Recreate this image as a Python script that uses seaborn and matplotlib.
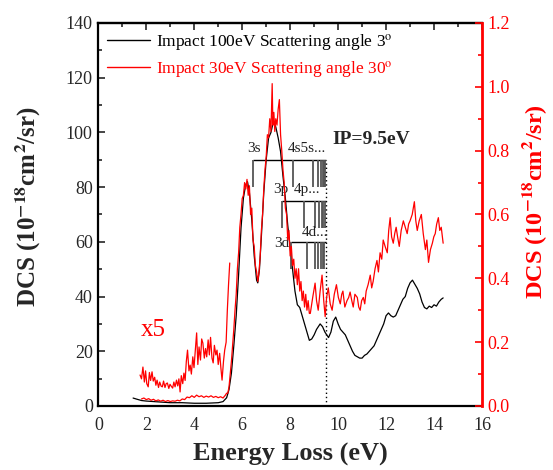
import matplotlib
matplotlib.use("Agg")
import matplotlib.pyplot as plt
from matplotlib.lines import Line2D
from matplotlib.ticker import MultipleLocator, FormatStrFormatter
import numpy as np
import pandas as pd
import seaborn as sns

# ---------------------------------------------------------------------------
# Data
# ---------------------------------------------------------------------------

# Impact 100 eV, 3 deg -- left axis
black_energy = [1.45, 1.6, 1.8, 2.0, 2.5, 3.0, 3.5, 4.0, 4.5, 5.0, 5.2, 5.35, 5.45, 5.55,
                5.65, 5.75, 5.85, 5.95, 6.05, 6.15, 6.22, 6.3, 6.4, 6.5, 6.6, 6.65, 6.72,
                6.8, 6.9, 7.0, 7.1, 7.2, 7.3, 7.4, 7.5, 7.6, 7.7, 7.8, 7.9, 8.0, 8.1, 8.2,
                8.3, 8.4, 8.5, 8.6, 8.7, 8.8, 8.9, 9.0, 9.1, 9.25, 9.35, 9.45, 9.6, 9.7,
                9.8, 9.9, 10.0, 10.1, 10.2, 10.3, 10.4, 10.5, 10.6, 10.7, 10.8, 10.9, 11.0,
                11.1, 11.2, 11.3, 11.4, 11.5, 11.6, 11.7, 11.8, 11.9, 12.0, 12.1, 12.2,
                12.3, 12.4, 12.5, 12.6, 12.7, 12.8, 12.9, 13.0, 13.1, 13.2, 13.3, 13.4,
                13.5, 13.6, 13.7, 13.8, 13.9, 14.0, 14.1, 14.2, 14.3, 14.38]
black_dcs = [2.9, 2.5, 2.0, 1.8, 1.5, 1.2, 1.2, 1.0, 1.0, 1.2, 1.6, 3.0, 6.0, 12.0,
             22.0, 33.0, 48.0, 65.0, 76.0, 81.0, 82.0, 78.0, 68.0, 55.0, 46.0, 45.0, 50.0,
             62.0, 78.0, 90.0, 98.0, 100.0, 104.0, 102.0, 98.0, 93.0, 84.0, 76.0, 66.0,
             58.0, 50.0, 42.0, 37.0, 36.0, 33.0, 30.0, 27.0, 24.0, 24.5, 26.0, 28.0, 30.0,
             29.0, 27.0, 25.0, 27.0, 31.0, 32.5, 30.0, 28.0, 27.0, 26.0, 24.0, 22.0, 20.0,
             18.5, 18.0, 17.5, 17.5, 18.5, 19.0, 20.0, 21.0, 22.0, 24.0, 26.0, 28.0, 30.0,
             33.0, 34.0, 33.0, 32.5, 33.0, 35.0, 37.0, 39.0, 40.0, 43.0, 45.0, 46.0, 44.5,
             43.0, 41.0, 38.0, 36.0, 35.5, 36.5, 36.0, 37.0, 36.5, 38.0, 39.0, 39.5]

# Impact 30 eV, 30 deg -- right axis
red_energy = [1.80, 1.90, 2.00, 2.10, 2.20, 2.30, 2.40, 2.50, 2.60, 2.70, 2.80, 2.90, 3.00,
              3.10, 3.20, 3.30, 3.40, 3.50, 3.60, 3.70, 3.80, 3.90, 4.00, 4.10, 4.20, 4.30,
              4.40, 4.50, 4.60, 4.70, 4.80, 4.90, 5.00, 5.10, 5.20, 5.30, 5.35,
              5.40, 5.45, 5.50, 5.55, 5.60, 5.65, 5.70, 5.75, 5.80, 5.85, 5.90, 5.95, 6.00,
              6.05, 6.10, 6.15, 6.20, 6.25, 6.30, 6.35, 6.40, 6.45, 6.50, 6.55, 6.60, 6.65,
              6.70, 6.75, 6.80, 6.85, 6.90, 6.95, 7.00, 7.05, 7.10, 7.15, 7.20, 7.25, 7.28,
              7.32, 7.36, 7.40, 7.45, 7.50, 7.55, 7.60, 7.65, 7.70, 7.75, 7.80, 7.85, 7.90,
              7.95, 8.00, 8.05, 8.10, 8.15, 8.20, 8.25, 8.30, 8.35, 8.40, 8.45, 8.50, 8.55,
              8.60, 8.65, 8.70, 8.75, 8.80,
              8.84, 8.94, 9.04, 9.10, 9.17, 9.25, 9.33, 9.40, 9.46, 9.52, 9.59, 9.67, 9.75,
              9.84, 9.93, 10.01, 10.09, 10.15, 10.20, 10.28, 10.37, 10.44, 10.50, 10.57,
              10.63, 10.70, 10.80, 10.86, 10.92, 10.98, 11.05, 11.11, 11.17, 11.25, 11.34,
              11.40, 11.46, 11.54, 11.62, 11.68, 11.75, 11.82, 11.88, 11.96, 12.05, 12.11,
              12.17, 12.23, 12.30, 12.36, 12.42, 12.48, 12.55, 12.63, 12.72, 12.80, 12.88,
              12.94, 13.00, 13.09, 13.18, 13.24, 13.30, 13.38, 13.47, 13.55, 13.64, 13.70,
              13.77, 13.85, 13.93, 13.99, 14.05, 14.11, 14.18, 14.24, 14.30, 14.38]
red_dcs = [0.022, 0.025, 0.020, 0.023, 0.018, 0.021, 0.016, 0.019, 0.015, 0.018, 0.014,
           0.017, 0.014, 0.016, 0.015, 0.018, 0.016, 0.022, 0.020, 0.028, 0.026, 0.032,
           0.027, 0.034, 0.029, 0.032, 0.027, 0.031, 0.028, 0.032, 0.027, 0.030, 0.026,
           0.029, 0.025, 0.034, 0.040,
           0.04, 0.06, 0.10, 0.14, 0.19, 0.24, 0.30, 0.35, 0.43, 0.48, 0.56, 0.60, 0.65,
           0.66, 0.70, 0.68, 0.71, 0.66, 0.69, 0.60, 0.62, 0.52, 0.50, 0.44, 0.42, 0.39,
           0.42, 0.47, 0.55, 0.60, 0.68, 0.74, 0.78, 0.85, 0.84, 0.90, 0.86, 1.01, 0.88,
           0.92, 0.86, 0.90, 0.88, 0.93, 0.96, 0.85, 0.80, 0.74, 0.70, 0.62, 0.60, 0.52,
           0.55, 0.47, 0.50, 0.44, 0.46, 0.40, 0.43, 0.38, 0.43, 0.36, 0.39, 0.33, 0.36,
           0.31, 0.35, 0.30, 0.33, 0.29,
           0.29, 0.34, 0.385, 0.33, 0.30, 0.36, 0.41, 0.33, 0.28, 0.34, 0.37, 0.32, 0.30,
           0.35, 0.38, 0.34, 0.32, 0.35, 0.36, 0.31, 0.33, 0.34, 0.357, 0.33,
           0.31, 0.35, 0.34, 0.31, 0.30, 0.33, 0.34, 0.32, 0.36, 0.38, 0.41,
           0.37, 0.39, 0.43, 0.456, 0.42, 0.48, 0.46, 0.52, 0.50, 0.48, 0.55,
           0.59, 0.53, 0.51, 0.54, 0.56, 0.53, 0.50, 0.55, 0.58, 0.56, 0.54,
           0.57, 0.58, 0.60, 0.64, 0.58, 0.55, 0.58, 0.60, 0.54, 0.49, 0.52,
           0.45, 0.49, 0.51, 0.53, 0.54, 0.57, 0.59, 0.55, 0.56, 0.51]

# low-energy part of the red curve multiplied by 5
x5_energy = [1.74, 1.80, 1.86, 1.92, 1.97, 2.02, 2.08, 2.13, 2.18, 2.24, 2.29, 2.35, 2.40,
             2.45, 2.51, 2.56, 2.62, 2.67, 2.72, 2.78, 2.83, 2.88, 2.94, 2.99, 3.04, 3.10,
             3.15, 3.20, 3.26, 3.31, 3.36, 3.41, 3.46, 3.52, 3.57, 3.62, 3.67, 3.72, 3.78,
             3.83, 3.88, 3.94, 3.99, 4.04, 4.10, 4.15, 4.20, 4.26, 4.31, 4.36, 4.42, 4.47,
             4.52, 4.58, 4.63, 4.68, 4.74, 4.79, 4.84, 4.90, 4.95, 5.00, 5.06, 5.11, 5.16,
             5.22, 5.27, 5.33, 5.38, 5.43, 5.48]
x5_dcs = [0.097, 0.085, 0.122, 0.075, 0.110, 0.070, 0.060, 0.105, 0.080, 0.107, 0.078,
          0.090, 0.065, 0.081, 0.058, 0.075, 0.062, 0.060, 0.078, 0.058, 0.070, 0.072,
          0.055, 0.068, 0.062, 0.056, 0.075, 0.060, 0.081, 0.063, 0.085, 0.044, 0.095,
          0.070, 0.103, 0.080, 0.140, 0.175, 0.110, 0.128, 0.100, 0.154, 0.120, 0.170,
          0.229, 0.130, 0.185, 0.144, 0.210, 0.197, 0.150, 0.180, 0.154, 0.207, 0.160,
          0.215, 0.150, 0.135, 0.190, 0.160, 0.175, 0.130, 0.165, 0.120, 0.081, 0.140,
          0.175, 0.200, 0.300, 0.380, 0.448]

# Rydberg series markers (energy positions, eV) and their levels on the left axis
s_levels = [6.43, 8.11, 8.97, 9.17, 9.30, 9.37, 9.42, 9.46]
p_levels = [7.65, 8.56, 9.04, 9.21, 9.32, 9.39, 9.44]
d_levels = [8.03, 8.70, 9.04, 9.18, 9.29, 9.36, 9.42]
series_top = [90, 75, 60]
series_bottom = [80, 65, 50]
ionisation_potential = 9.5

legend_labels = ["Impact 100eV Scattering angle 3$^{\\rm o}$",
                 "Impact 30eV Scattering angle 30$^{\\rm o}$"]

# ---------------------------------------------------------------------------
# Style
# ---------------------------------------------------------------------------

sns.set_style("white")
plt.rcParams["font.family"] = ["Liberation Serif", "DejaVu Serif"]
plt.rcParams["mathtext.fontset"] = "stix"

black_df = pd.DataFrame({"energy": black_energy, "dcs": black_dcs})
red_df = pd.DataFrame({"energy": red_energy, "dcs": red_dcs})
x5_df = pd.DataFrame({"energy": x5_energy, "dcs": x5_dcs})

fig = plt.figure(figsize=(5.53, 4.70), dpi=100)
ax = fig.add_axes([0.1778, 0.1362, 0.6938, 0.8149])
ax2 = ax.twinx()

sns.lineplot(data=black_df, x="energy", y="dcs", ax=ax, color="black", lw=0.9,
             estimator=None, sort=False)
sns.lineplot(data=red_df, x="energy", y="dcs", ax=ax2, color="red", lw=0.9,
             estimator=None, sort=False)
sns.lineplot(data=x5_df, x="energy", y="dcs", ax=ax2, color="red", lw=0.9,
             estimator=None, sort=False)

# series markers
for levels, top, bottom in zip([s_levels, p_levels, d_levels], series_top, series_bottom):
    ax.hlines(top, levels[0], ionisation_potential, color="black", lw=1.0)
    ax.vlines(levels, bottom, top, color="#555555", lw=1.3)
ax.vlines(ionisation_potential, 0, series_top[0], color="black", lw=1.0, linestyles=(0, (1, 2)))

lab_kw = dict(fontsize=11, color="#222222", va="center")
ax.text(6.48, 94, "3s", ha="center", **lab_kw)
ax.text(7.92, 94, "4s5s...", ha="left", **lab_kw)
ax.text(7.60, 79, "3p", ha="center", **lab_kw)
ax.text(8.13, 79, "4p...", ha="left", **lab_kw)
ax.text(7.67, 59.5, "3d", ha="center", **lab_kw)
ax.text(8.50, 63.3, "4d...", ha="left", **lab_kw)
ax.text(11.38, 97.4, "IP=9.5eV", ha="center", va="center", fontsize=14, fontweight="bold")
ax.text(2.28, 27.8, "x5", ha="center", va="center", fontsize=18, color="red")

# axes
ax.set_xlim(0, 16)
ax.set_ylim(0, 140)
ax2.set_ylim(0, 1.2)
ax.xaxis.set_major_locator(MultipleLocator(2))
ax.xaxis.set_minor_locator(MultipleLocator(1))
ax.yaxis.set_major_locator(MultipleLocator(20))
ax.yaxis.set_minor_locator(MultipleLocator(10))
ax2.yaxis.set_major_locator(MultipleLocator(0.2))
ax2.yaxis.set_minor_locator(MultipleLocator(0.1))
ax2.yaxis.set_major_formatter(FormatStrFormatter("%.1f"))

ax.tick_params(axis="x", which="both", direction="out", labelsize=13, pad=3)
ax.tick_params(axis="x", which="major", length=5, width=1.2)
ax.tick_params(axis="x", which="minor", length=3, width=1.2)
ax.tick_params(axis="y", which="both", direction="in", labelsize=13, pad=4)
ax.tick_params(axis="y", which="major", length=5, width=1.2)
ax.tick_params(axis="y", which="minor", length=3, width=1.2)
ax2.tick_params(axis="y", which="both", direction="in", colors="red", labelsize=13, pad=4)
ax2.tick_params(axis="y", which="major", length=5, width=1.2)
ax2.tick_params(axis="y", which="minor", length=3, width=1.2)

# top axis: inward ticks, no labels
top = ax.secondary_xaxis("top")
top.xaxis.set_major_locator(MultipleLocator(2))
top.xaxis.set_minor_locator(MultipleLocator(1))
top.tick_params(axis="x", which="both", direction="in", labeltop=False, width=1.2)
top.tick_params(axis="x", which="major", length=5)
top.tick_params(axis="x", which="minor", length=3)
top.spines["top"].set_linewidth(1.6)

for side in ["left", "bottom", "top"]:
    ax.spines[side].set_linewidth(1.6)
    ax.spines[side].set_color("black")
ax.spines["right"].set_visible(False)
for side in ["left", "bottom", "top"]:
    ax2.spines[side].set_visible(False)
ax2.spines["right"].set_color("red")
ax2.spines["right"].set_linewidth(2.0)

ylabel = "DCS (10$^{\\mathbf{-18}}$cm$^{\\mathbf{2}}$/sr)"
ax.set_xlabel("Energy Loss (eV)", fontsize=19, fontweight="bold", labelpad=6)
ax.set_ylabel(ylabel, fontsize=18, fontweight="bold")
ax2.set_ylabel(ylabel, fontsize=17.5, fontweight="bold", color="red", rotation=90)
ax.yaxis.set_label_coords(-0.145, 0.52)
ax2.yaxis.set_label_coords(1.10, 0.535)

handles = [Line2D([], [], color="black", lw=1.0), Line2D([], [], color="red", lw=1.0)]
leg = ax2.legend(handles, legend_labels, loc="upper left", bbox_to_anchor=(107 / 553, 1 - 32 / 470),
                 bbox_transform=fig.transFigure, frameon=False, fontsize=12.5, handlelength=2.5,
                 handletextpad=0.3, borderpad=0, borderaxespad=0, labelspacing=0.35)
for text, col in zip(leg.get_texts(), ["black", "red"]):
    text.set_color(col)

fig.savefig("out.png", dpi=100)
